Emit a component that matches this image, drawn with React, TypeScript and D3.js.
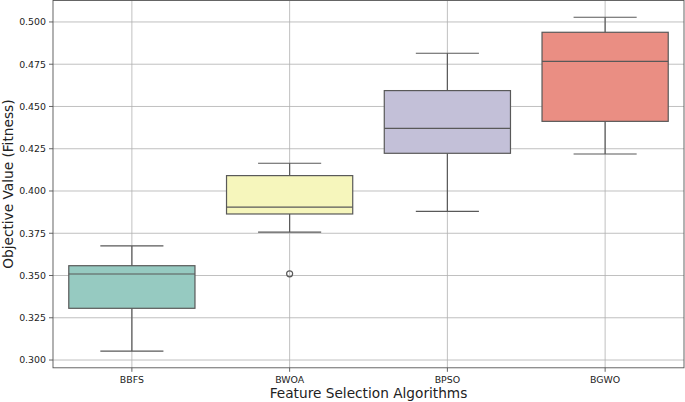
import React from "react";
import * as d3 from "d3";

const categories = ["BBFS", "BWOA", "BPSO", "BGWO"];
const whiskerLow = [0.3053, 0.3757, 0.388, 0.4219];
const q1 = [0.3306, 0.3864, 0.4223, 0.4412];
const median = [0.3509, 0.3905, 0.4371, 0.4767];
const q3 = [0.3558, 0.4091, 0.4594, 0.4939];
const whiskerHigh = [0.3675, 0.4164, 0.4815, 0.5028];
const outliers: number[][] = [[], [0.351], [], []];
const colors = ["#96cac1", "#f6f6bc", "#c3c0d8", "#ea8e83"];
const yTicks = [0.3, 0.325, 0.35, 0.375, 0.4, 0.425, 0.45, 0.475, 0.5];

const W = 685;
const H = 402;
const left = 53;
const right = 684;
const top = 0.5;
const bottom = 367.8;
const lineColor = "#595959";
const font = "'DejaVu Sans', sans-serif";

export default function App() {
  const x = d3.scaleBand<string>().domain(categories).range([left, right]).paddingInner(0).paddingOuter(0);
  const y = d3.scaleLinear().domain([0.2954, 0.5127]).range([bottom, top]);
  const bw = x.bandwidth();
  const boxW = bw * 0.8;
  const capW = boxW * 0.5;

  return (
    <svg width={W} height={H} style={{ position: "absolute", left: 0, top: 0, background: "#fff" }}>
      {/* grid */}
      <g stroke="#b0b0b0" strokeWidth={0.8}>
        {yTicks.map((t) => (
          <line key={"gy" + t} x1={left} x2={right} y1={y(t)} y2={y(t)} />
        ))}
        {categories.map((c) => (
          <line key={"gx" + c} x1={x(c)! + bw / 2} x2={x(c)! + bw / 2} y1={top} y2={bottom} />
        ))}
      </g>
      {/* boxes */}
      {categories.map((c, i) => {
        const cx = x(c)! + bw / 2;
        return (
          <g key={c} stroke={lineColor} strokeWidth={1.2} fill="none">
            <line x1={cx} x2={cx} y1={y(q1[i])} y2={y(whiskerLow[i])} />
            <line x1={cx} x2={cx} y1={y(q3[i])} y2={y(whiskerHigh[i])} />
            <line x1={cx - capW / 2} x2={cx + capW / 2} y1={y(whiskerLow[i])} y2={y(whiskerLow[i])} />
            <line x1={cx - capW / 2} x2={cx + capW / 2} y1={y(whiskerHigh[i])} y2={y(whiskerHigh[i])} />
            <rect
              x={cx - boxW / 2}
              width={boxW}
              y={y(q3[i])}
              height={y(q1[i]) - y(q3[i])}
              fill={colors[i]}
            />
            <line x1={cx - boxW / 2} x2={cx + boxW / 2} y1={y(median[i])} y2={y(median[i])} />
            {outliers[i].map((o, j) => (
              <circle key={j} cx={cx} cy={y(o)} r={3} fill="none" />
            ))}
          </g>
        );
      })}
      {/* spines */}
      <rect x={left} y={top} width={right - left} height={bottom - top} fill="none" stroke="#555" strokeWidth={0.9} />
      {/* y ticks */}
      {yTicks.map((t) => (
        <g key={"yt" + t}>
          <line x1={left - 4} x2={left} y1={y(t)} y2={y(t)} stroke="#555" strokeWidth={0.9} />
          <text x={left - 7} y={y(t)} dy="0.35em" textAnchor="end" fontFamily={font} fontSize={9.4} fill="#222">
            {d3.format(".3f")(t)}
          </text>
        </g>
      ))}
      {/* x ticks */}
      {categories.map((c) => (
        <g key={"xt" + c}>
          <line x1={x(c)! + bw / 2} x2={x(c)! + bw / 2} y1={bottom} y2={bottom + 4} stroke="#555" strokeWidth={0.9} />
          <text x={x(c)! + bw / 2} y={bottom + 15} textAnchor="middle" fontFamily={font} fontSize={9.4} fill="#222">
            {c}
          </text>
        </g>
      ))}
      <text x={(left + right) / 2} y={398} textAnchor="middle" fontFamily={font} fontSize={13.7} fill="#222">
        Feature Selection Algorithms
      </text>
      <text
        transform={`translate(12.5, ${(top + bottom) / 2}) rotate(-90)`}
        textAnchor="middle"
        fontFamily={font}
        fontSize={13.7}
        fill="#222"
      >
        Objective Value (Fitness)
      </text>
    </svg>
  );
}
